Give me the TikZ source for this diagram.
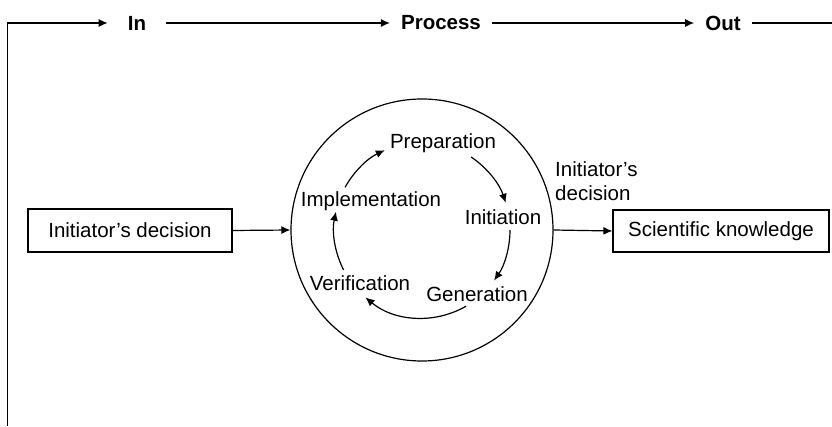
\documentclass[tikz,border=0pt]{standalone}
\usepackage{fontspec}
\setmainfont{Liberation Sans}
\usetikzlibrary{arrows.meta}

\tikzset{
  flow/.style={line width=1.2pt, -{Latex[length=9pt,width=8pt]}},
  stage/.style={inner xsep=11pt, inner ysep=2pt, font=\bfseries},
  textbox/.style={draw, line width=1.2pt, inner sep=0pt}
}

\begin{document}
\begin{tikzpicture}[x=1pt,y=1pt]
    \useasboundingbox (0,0) rectangle (832,426);
    \fontsize{20.5}{24}\selectfont
    % top line
    \coordinate (start) at (7.5,0);
    \node[stage, inner xsep=20pt] (in) at (137,403) {In};
    \node[stage] (process) at (441,403) {Process};
    \node[stage] (out) at (723,403) {Out};
    \coordinate (end) at (832,403);
    \draw[flow] (start) |- (in.west);
    \draw[flow] (in.east) -- (process.west);
    \draw[flow] (process.east) -- (out.west);
    \draw[line width=1.2pt] (out.east) -- (end);
    % boxes and circle
    \node[circle, draw, line width=1.2pt, minimum size=262pt] (proc) at (422,196) {};
    \node[textbox, minimum width=204pt, minimum height=43pt] (decision) at (130,195.5) {Initiator’s decision};
    \node[textbox, minimum width=216pt, minimum height=42pt] (knowledge) at (721,195) {Scientific knowledge};
    \draw[flow] (decision.east) -- (proc.west);
    \draw[flow] (proc.east) -- (knowledge.west);
    \node[anchor=north west, inner sep=0pt, align=left] (choice) at (555,265) {Initiator’s\\decision};
    % the cycle
    \coordinate (mid) at (422,196);
    \node (prep) at (443,283) {Preparation};
    \node (init) at (503,209) {Initiation};
    \node (gen) at (477,132) {Generation};
    \node (verif) at (360,143) {Verification};
    \node (impl) at (371,225) {Implementation};
    \foreach \s/\e in {151/115, 56/18, 0/-35, -60/-130, 207/168}
      \draw[flow] (mid) ++(\s:88) arc[start angle=\s, end angle=\e, radius=88];
\end{tikzpicture}
\end{document}
